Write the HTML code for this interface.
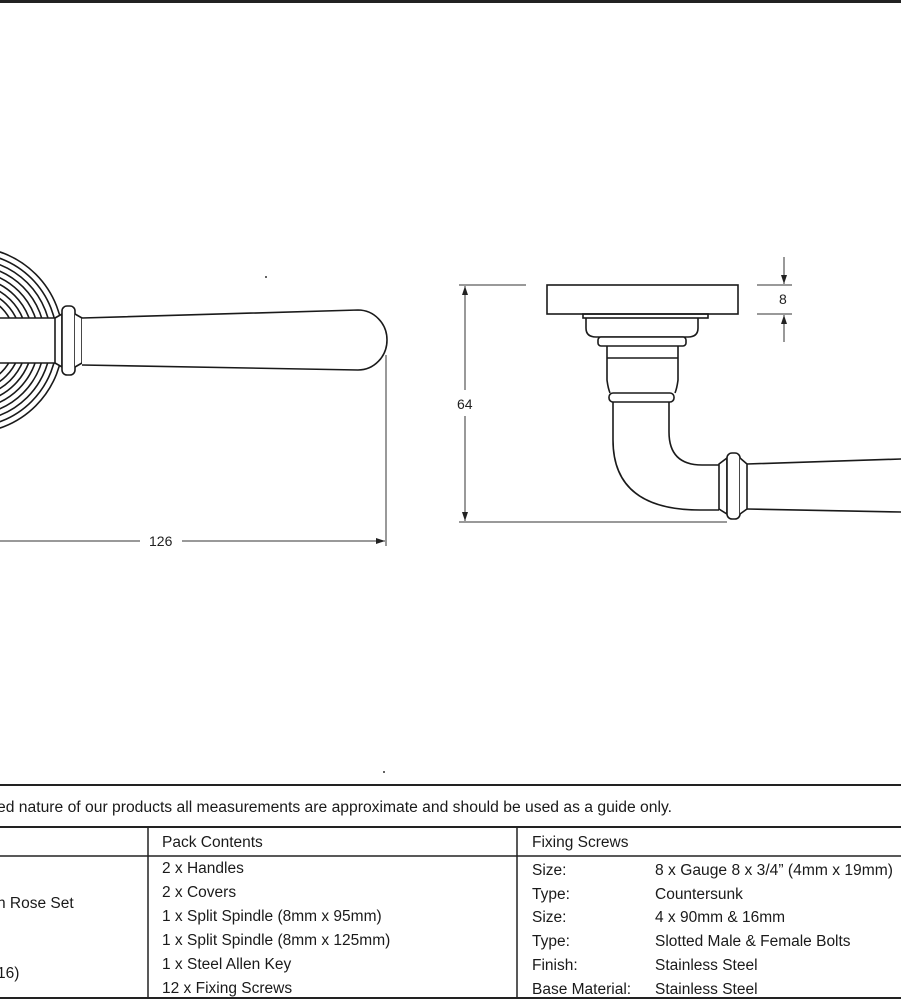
<!DOCTYPE html>
<html><head><meta charset="utf-8"><style>
html,body{margin:0;padding:0;background:#fff;}
body{width:901px;height:1001px;overflow:hidden;position:relative;font-family:"Liberation Sans",sans-serif;}
svg{position:absolute;left:0;top:0;}
</style></head><body>
<svg width="901" height="1001" viewBox="0 0 901 1001" xmlns="http://www.w3.org/2000/svg">
<defs>
<marker id="ar" markerWidth="10" markerHeight="8" refX="9" refY="4" orient="auto" markerUnits="userSpaceOnUse">
<path d="M0,1 L9,4 L0,7 Z" fill="#222"/></marker>
<clipPath id="cl"><path d="M0,0 H400 V318 H0 Z M0,363 H400 V600 H0 Z"/></clipPath>
</defs>
<line x1="0" y1="1.5" x2="901" y2="1.5" stroke="#222" stroke-width="3"/>
<g fill="none" stroke="#1a1a1a" stroke-width="1.6">
<g clip-path="url(#cl)">
<circle cx="-30" cy="340" r="93"/><circle cx="-30" cy="340" r="87"/><circle cx="-30" cy="340" r="81"/>
<circle cx="-30" cy="340" r="75"/><circle cx="-30" cy="340" r="69"/><circle cx="-30" cy="340" r="63"/>
<circle cx="-30" cy="340" r="57"/><circle cx="-30" cy="340" r="51"/><circle cx="-30" cy="340" r="45"/>
</g>
<path d="M0,318 H55 M0,363 H55" />
<path d="M55,318 L62,314 L62,367 L55,363 Z" fill="#fff"/>
<rect x="62" y="306" width="13" height="69" rx="5" fill="#fff"/>
<path d="M75,314 L82,318 L82,363 L75,367" fill="#fff"/>
<path d="M82,318 L358,310 A29,30 0 0 1 358,370 L82,365" fill="#fff"/>
<rect x="547" y="285" width="191" height="29"/>
<rect x="583" y="314" width="125" height="4"/>
<path d="M586,318 V328 Q586,337 596,337 H688 Q698,337 698,328 V318"/>
<rect x="598" y="337" width="88" height="9" rx="3" fill="#fff"/>
<path d="M607,346 V380 Q608,388 610,393 M678,346 V380 Q677,388 675,393 M607,358 H678"/>
<rect x="609" y="393" width="65" height="9" rx="4" fill="#fff"/>
<path d="M613,402 V440 Q613,510 700,510 H719 M669,402 V432 Q669,465 702,465 H719"/>
<path d="M719,464 L727,458 L727,514 L719,509 Z" fill="#fff"/>
<rect x="727" y="453" width="13" height="66" rx="5" fill="#fff"/>
<path d="M740,458 L747,464 L747,509 L740,514" fill="#fff"/>
<path d="M747,464 L901,459 M747,509 L901,512"/>
</g>
<g stroke="#333" stroke-width="1" fill="none">
<line x1="386" y1="355" x2="386" y2="546"/>
<line x1="0" y1="541" x2="140" y2="541"/>
<line x1="182" y1="541" x2="385" y2="541" marker-end="url(#ar)"/>
<line x1="459" y1="285" x2="526" y2="285"/>
<line x1="459" y1="522" x2="727" y2="522"/>
<line x1="465" y1="390" x2="465" y2="286" marker-end="url(#ar)"/>
<line x1="465" y1="416" x2="465" y2="521" marker-end="url(#ar)"/>
<line x1="757" y1="285" x2="792" y2="285"/>
<line x1="757" y1="314" x2="792" y2="314"/>
<line x1="784" y1="257" x2="784" y2="284" marker-end="url(#ar)"/>
<line x1="784" y1="342" x2="784" y2="315" marker-end="url(#ar)"/>
</g>
<g font-size="14" fill="#222" font-family="Liberation Sans,sans-serif">
<text x="149" y="546">126</text>
<text x="457" y="409">64</text>
<text x="779" y="304">8</text>
</g>
<circle cx="266" cy="277" r="1" fill="#333"/>
<circle cx="384" cy="772" r="1" fill="#333"/>
<g stroke="#222" fill="none">
<line x1="0" y1="785" x2="901" y2="785" stroke-width="2"/>
<line x1="0" y1="827" x2="901" y2="827" stroke-width="2"/>
<line x1="0" y1="856" x2="901" y2="856" stroke-width="1.5"/>
<line x1="0" y1="998" x2="901" y2="998" stroke-width="2"/>
<line x1="148" y1="827" x2="148" y2="998" stroke-width="1.5"/>
<line x1="517" y1="827" x2="517" y2="998" stroke-width="1.5"/>
</g>
<g font-size="15.5" fill="#1a1a1a" font-family="Liberation Sans,sans-serif">
<text x="-3" y="812" textLength="675" lengthAdjust="spacingAndGlyphs">ed nature of our products all measurements are approximate and should be used as a guide only.</text>
<text x="162" y="847">Pack Contents</text>
<text x="532" y="847">Fixing Screws</text>
<text x="-3" y="908">n Rose Set</text>
<text x="-3" y="978">16)</text>
<text x="162" y="873">2 x Handles</text>
<text x="162" y="897">2 x Covers</text>
<text x="162" y="921">1 x Split Spindle (8mm x 95mm)</text>
<text x="162" y="945">1 x Split Spindle (8mm x 125mm)</text>
<text x="162" y="969">1 x Steel Allen Key</text>
<text x="162" y="993">12 x Fixing Screws</text>
<text x="532" y="875">Size:</text><text x="655" y="875" textLength="238" lengthAdjust="spacingAndGlyphs">8 x Gauge 8 x 3/4” (4mm x 19mm)</text>
<text x="532" y="899">Type:</text><text x="655" y="899">Countersunk</text>
<text x="532" y="922">Size:</text><text x="655" y="922">4 x 90mm &amp; 16mm</text>
<text x="532" y="946">Type:</text><text x="655" y="946">Slotted Male &amp; Female Bolts</text>
<text x="532" y="970">Finish:</text><text x="655" y="970">Stainless Steel</text>
<text x="532" y="994">Base Material:</text><text x="655" y="994">Stainless Steel</text>
</g>
</svg>
</body></html>
